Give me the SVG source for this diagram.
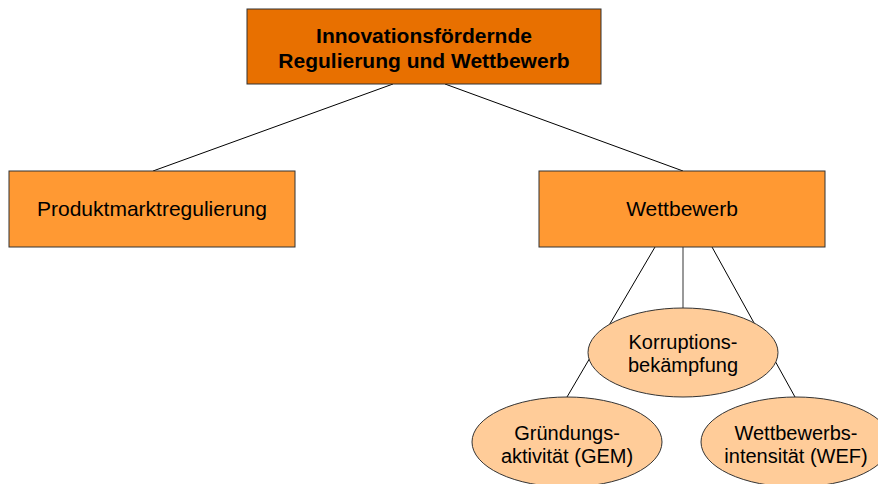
<svg xmlns="http://www.w3.org/2000/svg" width="878" height="484" viewBox="0 0 878 484">
<style>
  .t { font-family: "Liberation Sans", Arial, sans-serif; fill: #000; text-anchor: middle; }
  .box { stroke: #333; stroke-width: 1; }
  .ell { fill: #FFCC99; stroke: #333; stroke-width: 1; }
  .ln { stroke: #000; stroke-width: 1; fill: none; }
</style>
<rect width="878" height="484" fill="#fff"/>
<g id="connectors">
  <line class="ln" x1="393" y1="84" x2="153" y2="171"/>
  <line class="ln" x1="445" y1="84" x2="683" y2="171"/>
  <line class="ln" x1="655" y1="247" x2="567" y2="397"/>
  <line class="ln" x1="712" y1="247" x2="795" y2="397"/>
  <line x1="683" y1="247" x2="683" y2="308" stroke="#777" stroke-width="1.5"/>
</g>
<g id="root">
  <rect class="box" x="247" y="9" width="354" height="75" fill="#E87000"/>
  <text class="t" x="424" y="43" font-size="21" font-weight="bold">Innovationsfördernde</text>
  <text class="t" x="424" y="68" font-size="21" font-weight="bold">Regulierung und Wettbewerb</text>
</g>
<g id="produktmarkt">
  <rect class="box" x="9" y="171" width="286" height="76" fill="#FF9933"/>
  <text class="t" x="152" y="216" font-size="21">Produktmarktregulierung</text>
</g>
<g id="wettbewerb">
  <rect class="box" x="539" y="171" width="286" height="76" fill="#FF9933"/>
  <text class="t" x="682" y="216" font-size="21">Wettbewerb</text>
</g>
<g id="korruption">
  <ellipse class="ell" cx="683" cy="352.5" rx="95" ry="44.5"/>
  <text class="t" x="683" y="349" font-size="20">Korruptions-</text>
  <text class="t" x="683" y="372" font-size="20">bekämpfung</text>
</g>
<g id="gruendung">
  <ellipse class="ell" cx="567" cy="442" rx="95" ry="45"/>
  <text class="t" x="567" y="440" font-size="20">Gründungs-</text>
  <text class="t" x="567" y="463" font-size="20">aktivität (GEM)</text>
</g>
<g id="wettbewerbsintensitaet">
  <ellipse class="ell" cx="796" cy="442" rx="95" ry="45"/>
  <text class="t" x="796" y="440" font-size="20">Wettbewerbs-</text>
  <text class="t" x="796" y="463" font-size="20">intensität (WEF)</text>
</g>
</svg>
